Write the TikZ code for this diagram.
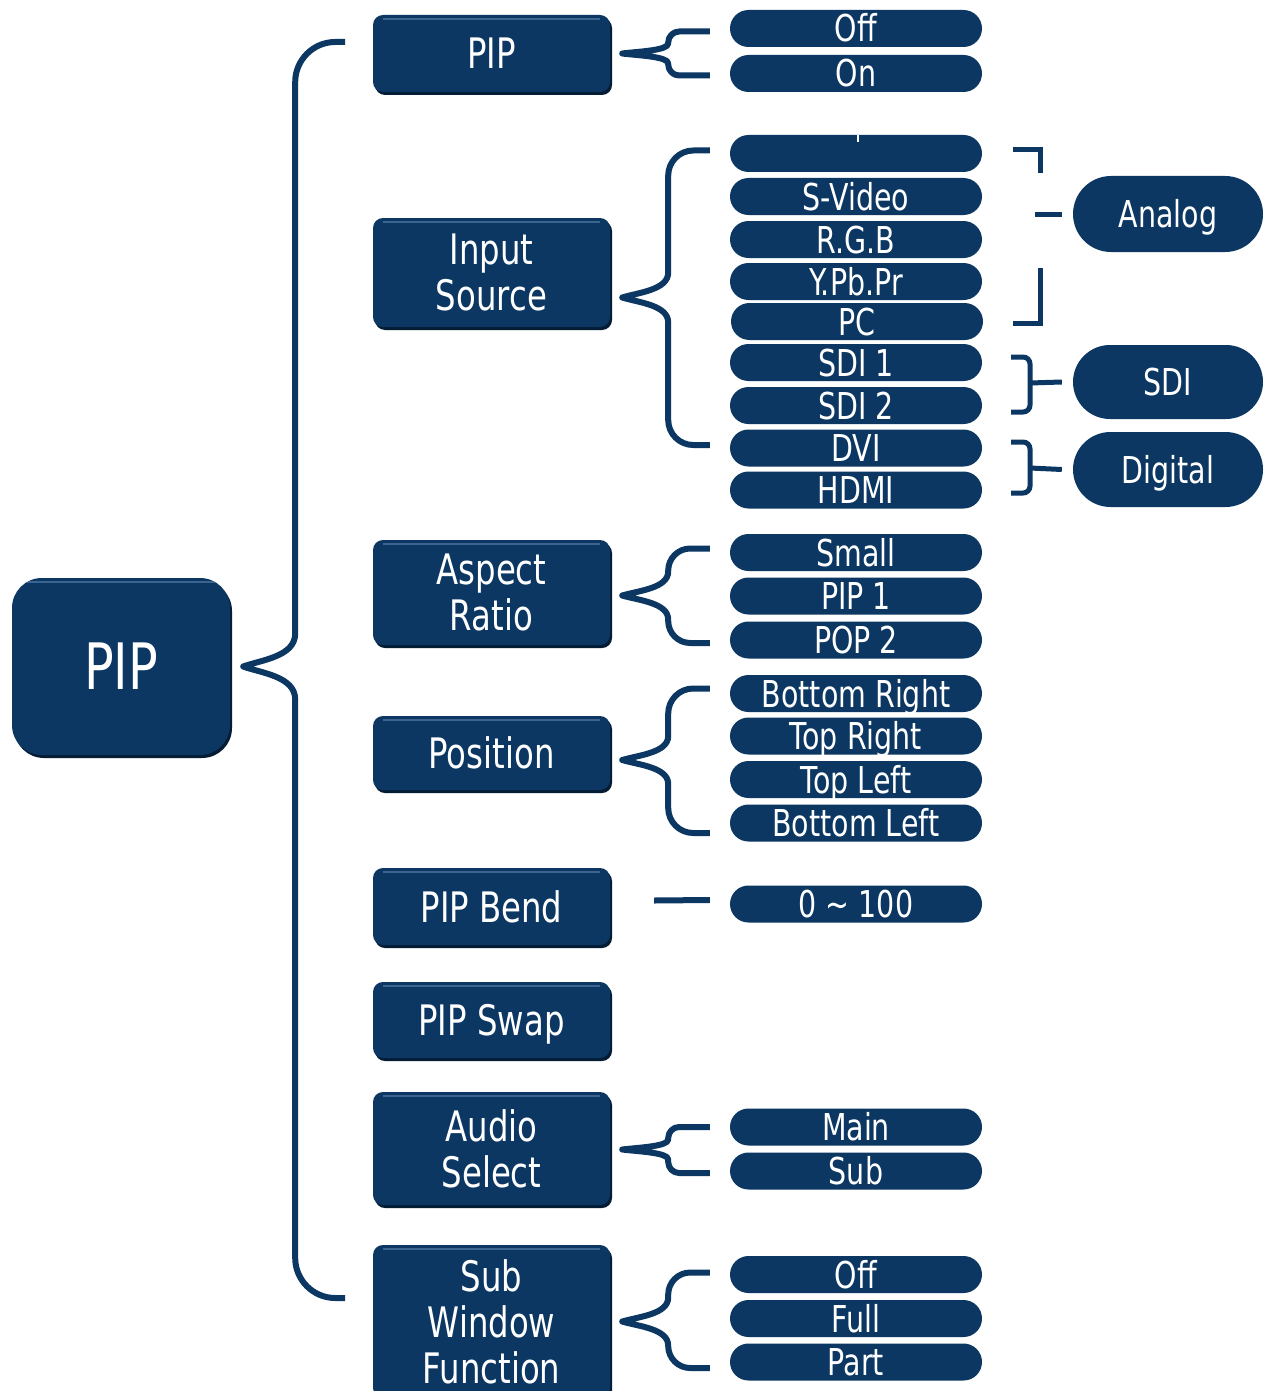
\documentclass[tikz,border=0pt]{standalone}
\usepackage{fontspec}
\setmainfont{DejaVu Sans}
\newfontfamily\tf[FakeStretch=0.77]{DejaVu Sans}
\usetikzlibrary{calc}
\definecolor{navy}{RGB}{11,55,98}
\definecolor{navyd}{RGB}{4,28,52}
\definecolor{navyl}{RGB}{60,100,145}
\tikzset{
 conn/.style={draw=navy, line width=6pt, line join=round},
 lvlone/.style={rounded corners=10pt, fill=navy, minimum width=237pt, inner sep=0pt, text=white, align=center,
   font=\tf\fontsize{42}{46}\selectfont,
   preaction={fill=navyd, transform canvas={shift={(2pt,-3pt)}}},
   path picture={\draw[navyl, line width=1.5pt] ([shift={(10pt,-4pt)}]path picture bounding box.north west) -- ([shift={(-10pt,-4pt)}]path picture bounding box.north east);}},
 oneline/.style={text height=31pt, text depth=0pt},
 pill/.style={rounded corners=18.5pt, fill=navy, minimum width=252pt, minimum height=37pt, inner sep=0pt, text=white,
   font=\tf\fontsize{37}{40}\selectfont, text height=27pt, text depth=0pt},
 grp/.style={fill=navy, minimum width=190pt, inner sep=0pt, text=white,
   font=\tf\fontsize{37}{40}\selectfont, text height=27pt, text depth=0pt},
 brk/.style={draw=navy, line width=5pt},
}
% #1 tip, #2 top end, #3 bottom end, #4 vertical x offset from tip, #5 end radius, #6 tip radius
\newcommand\curly[6]{%
 \draw[conn] let \p1=(#1), \p2=(#2), \p3=(#3), \p4=($(#1)+(#4pt,0pt)$) in
  (\p2) -- ({\x4+#5pt},\y2) .. controls ({\x4+0.45*#5pt},\y2) and (\x4,{\y2-0.45*#5pt}) .. (\x4,\y2-#5pt)
  -- (\x4,\y1+#6pt)
  .. controls (\x4,{\y1+0.3*#6pt}) and ({\x1+0.35*#4pt},{\y1+0.2*#6pt}) .. (\p1)
  .. controls ({\x1+0.35*#4pt},{\y1-0.2*#6pt}) and (\x4,{\y1-0.3*#6pt}) .. (\x4,\y1-#6pt)
  -- (\x4,\y3+#5pt) .. controls (\x4,{\y3+0.45*#5pt}) and ({\x4+0.45*#5pt},\y3) .. ({\x4+#5pt},\y3) -- (\p3);
}
\begin{document}
\begin{tikzpicture}[x=1pt,y=-1pt]
\useasboundingbox (0,0) rectangle (1265,1391);
\fill[white] (0,0) rectangle (1265,1391);

% root
\node[lvlone, minimum width=218pt, minimum height=177pt, rounded corners=30pt,
  font=\tf\fontsize{64}{64}\selectfont, text height=46pt, text depth=0pt] (root) at (121,666.5) {PIP};

% level one
\node[lvlone, oneline, minimum height=77pt] (b1) at (491.5,53.5) {PIP};
\node[lvlone, minimum height=109pt] (b2) at (491.5,272.5) {Input\\Source};
\node[lvlone, minimum height=105pt] (b3) at (491.5,592.5) {Aspect\\Ratio};
\node[lvlone, oneline, minimum height=74pt] (b4) at (491.5,753) {Position};
\node[lvlone, oneline, minimum height=77pt] (b5) at (491.5,906.5) {PIP Bend};
\node[lvlone, oneline, minimum height=76pt] (b6) at (491.5,1020) {PIP Swap};
\node[lvlone, minimum height=113pt] (b7) at (491.5,1148.5) {Audio\\Select};
\node[lvlone, minimum height=153pt] (b8) at (491.5,1321.5) {Sub\\Window\\Function};

% level two
\node[pill] (p11) at (856,28.5) {Off};
\node[pill] (p12) at (856,73.5) {On};

\node[pill] (p21) at (856,153.5) {};
\node[pill] (p22) at (856,196.5) {S-Video};
\node[pill] (p23) at (856,239.5) {R.G.B};
\node[pill] (p24) at (856,281.5) {Y.Pb.Pr};
\node[pill] (p25) at (857,321.5) {PC};
\node[pill] (p26) at (856,362.5) {SDI 1};
\node[pill] (p27) at (856,405.5) {SDI 2};
\node[pill] (p28) at (856,448) {DVI};
\node[pill] (p29) at (856,490) {HDMI};
\draw[white, line width=2pt] ([xshift=2pt]p21.north) -- ++(0,7);

\node[pill] (p31) at (856,552.5) {Small};
\node[pill] (p32) at (856,596) {PIP 1};
\node[pill] (p33) at (856,640) {POP 2};

\node[pill] (p41) at (856,693.5) {Bottom Right};
\node[pill] (p42) at (856,736) {Top Right};
\node[pill] (p43) at (856,779.5) {Top Left};
\node[pill] (p44) at (856,823) {Bottom Left};

\node[pill] (p51) at (856,904) {0 \textasciitilde{} 100};

\node[pill] (p71) at (856,1127) {Main};
\node[pill] (p72) at (856,1171) {Sub};

\node[pill] (p81) at (856,1274.5) {Off};
\node[pill] (p82) at (856,1318.5) {Full};
\node[pill] (p83) at (856,1362) {Part};

% level three
\node[grp, minimum height=76pt, rounded corners=38pt] (ga) at (1168,214) {Analog};
\node[grp, minimum height=74pt, rounded corners=37pt] (gs) at (1168,382) {SDI};
\node[grp, minimum height=75pt, rounded corners=37.5pt] (gd) at (1168,469.5) {Digital};

% main brace
\coordinate (mt) at (345,42);
\coordinate (mb) at (345,1298);
\curly{[xshift=13pt]root.east}{mt}{mb}{52}{40}{33}

% level one braces
\curly{[xshift=12pt]b1.east}{[shift={(-20pt,-3pt)}]p11.west}{[shift={(-20pt,-2pt)}]p12.west}{46}{11}{10}
\curly{[shift={(12pt,-25pt)}]b2.east}{[shift={(-20pt,3pt)}]p21.west}{[shift={(-20pt,3pt)}]p28.west}{46}{25}{25}
\curly{[shift={(12pt,-3pt)}]b3.east}{[shift={(-20pt,4pt)}]p31.west}{[shift={(-20pt,-3pt)}]p33.west}{46}{22}{24}
\curly{[shift={(12pt,-7pt)}]b4.east}{[shift={(-20pt,5pt)}]p41.west}{[shift={(-20pt,-10pt)}]p44.west}{46}{25}{24}
\draw[conn] ([shift={(44pt,6pt)}]b5.east) -- ([shift={(-20pt,4pt)}]p51.west);
\curly{[shift={(12pt,-1pt)}]b7.east}{[xshift=-20pt]p71.west}{[shift={(-20pt,-2pt)}]p72.west}{46}{11}{10}
\curly{[shift={(12pt,0pt)}]b8.east}{[shift={(-20pt,2pt)}]p81.west}{[shift={(-20pt,-6pt)}]p83.west}{46}{22}{24}

% group brackets
\draw[brk] (1013,150) -- (1040,150) -- (1040,173);
\draw[brk] (1040,268) -- (1040,323) -- (1013,323);
\draw[brk] (1035,214) -- ([xshift=-11pt]ga.west);

\draw[brk, rounded corners=7pt] (1011,357) -- (1030,357) -- (1030,412) -- (1011,412);
\draw[brk] (1030,383) -- ([xshift=-11pt]gs.west);

\draw[brk, rounded corners=7pt] (1011,442) -- (1030,442) -- (1030,493) -- (1011,493);
\draw[brk] (1030,468) -- ([xshift=-11pt]gd.west);
\end{tikzpicture}
\end{document}
